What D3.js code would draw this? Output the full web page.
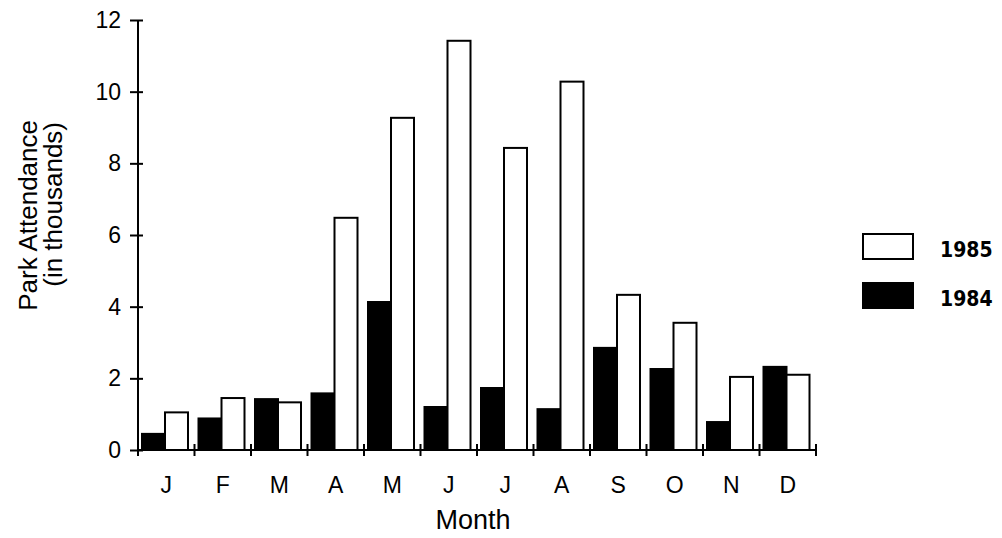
<!DOCTYPE html>
<html>
<head>
<meta charset="utf-8">
<script src="https://cdn.jsdelivr.net/npm/d3@7"></script>
<style>
  body { margin: 0; background: #fff; }
  svg { display: block; }
</style>
</head>
<body>
<div id="chart"></div>
<script>
// Chart data
const months = ['J', 'F', 'M', 'A', 'M', 'J', 'J', 'A', 'S', 'O', 'N', 'D'];
const years = ['1984', '1985'];
const values1984 = [0.45, 0.88, 1.42, 1.58, 4.13, 1.2, 1.73, 1.14, 2.85, 2.26, 0.78, 2.32];
const values1985 = [1.05, 1.45, 1.33, 6.48, 9.27, 11.42, 8.43, 10.28, 4.33, 3.55, 2.04, 2.1];
const yTicks = [0, 2, 4, 6, 8, 10, 12];

const width = 1002, height = 538;
const plotLeft = 138, plotRight = 816, plotTop = 20, plotBottom = 450;
const font = 'Liberation Sans, Arial, sans-serif';

const svg = d3.select('#chart')
    .append('svg')
    .attr('width', width)
    .attr('height', height);

// Scales
const x0 = d3.scaleBand()
    .domain(d3.range(months.length))
    .range([plotLeft, plotRight]);

const x1 = d3.scaleBand()
    .domain(years)
    .range([4, 50]);

const y = d3.scaleLinear()
    .domain([0, 12])
    .range([plotBottom, plotTop]);

const color = { '1984': '#000', '1985': '#fff' };

// Bars
const rows = months.map((m, i) => ({ i, m, v: { '1984': values1984[i], '1985': values1985[i] } }));

const groups = svg.selectAll('.month')
    .data(rows)
    .enter()
    .append('g')
    .attr('class', 'month')
    .attr('transform', d => `translate(${x0(d.i)},0)`);

groups.selectAll('rect')
    .data(d => years.map(yr => ({ yr, v: d.v[yr] })))
    .enter()
    .append('rect')
    .attr('x', d => x1(d.yr))
    .attr('width', x1.bandwidth())
    .attr('y', d => y(d.v))
    .attr('height', d => y(0) - y(d.v))
    .attr('fill', d => color[d.yr])
    .attr('stroke', '#000')
    .attr('stroke-width', 2);

// Y axis
const yAxis = svg.append('g')
    .attr('transform', `translate(${plotLeft},0)`)
    .call(d3.axisLeft(y).tickValues(yTicks).tickSize(8).tickPadding(9));

yAxis.select('.domain').attr('stroke-width', 2).attr('d', `M0,${plotBottom}V${plotTop}`);
yAxis.selectAll('.tick line').attr('x1', 5).attr('x2', -8).attr('stroke-width', 2);
yAxis.selectAll('.tick text')
    .style('font-family', font)
    .style('font-size', '23px')
    .attr('fill', '#000');

// X axis
svg.append('line')
    .attr('x1', plotLeft).attr('x2', plotRight)
    .attr('y1', plotBottom).attr('y2', plotBottom)
    .attr('stroke', '#000')
    .attr('stroke-width', 2);

svg.selectAll('.xtick')
    .data(d3.range(months.length + 1))
    .enter()
    .append('line')
    .attr('class', 'xtick')
    .attr('x1', d => d < months.length ? x0(d) : x0(d - 1) + x0.bandwidth())
    .attr('x2', d => d < months.length ? x0(d) : x0(d - 1) + x0.bandwidth())
    .attr('y1', plotBottom - 6)
    .attr('y2', plotBottom + 6)
    .attr('stroke', '#000')
    .attr('stroke-width', 2);

svg.selectAll('.xlabel')
    .data(rows)
    .enter()
    .append('text')
    .attr('class', 'xlabel')
    .attr('x', d => x0(d.i) + x0.bandwidth() / 2)
    .attr('y', 493)
    .attr('text-anchor', 'middle')
    .style('font-family', font)
    .style('font-size', '23px')
    .text(d => d.m);

// Axis titles
svg.append('text')
    .attr('x', 473)
    .attr('y', 529)
    .attr('text-anchor', 'middle')
    .style('font-family', font)
    .style('font-size', '27px')
    .text('Month');

svg.append('text')
    .attr('transform', 'translate(37,120) rotate(-90)')
    .attr('text-anchor', 'end')
    .style('font-family', font)
    .style('font-size', '26px')
    .text('Park Attendance');

svg.append('text')
    .attr('transform', 'translate(62,122) rotate(-90)')
    .attr('text-anchor', 'end')
    .style('font-family', font)
    .style('font-size', '26px')
    .text('(in thousands)');

// Legend
const legend = svg.append('g')
    .attr('transform', 'translate(863,234)');

const legendItems = ['1985', '1984'];

legend.selectAll('rect')
    .data(legendItems)
    .enter()
    .append('rect')
    .attr('x', 0)
    .attr('y', (d, i) => i * 49)
    .attr('width', 50)
    .attr('height', 25)
    .attr('fill', d => color[d])
    .attr('stroke', '#000')
    .attr('stroke-width', 2);

legend.selectAll('text')
    .data(legendItems)
    .enter()
    .append('text')
    .attr('x', 77)
    .attr('y', (d, i) => i * 49 + 23)
    .style('font-family', 'DejaVu Sans Condensed, DejaVu Sans, sans-serif')
    .style('font-weight', 'bold')
    .style('font-size', '21px')
    .text(d => d);
</script>
</body>
</html>
